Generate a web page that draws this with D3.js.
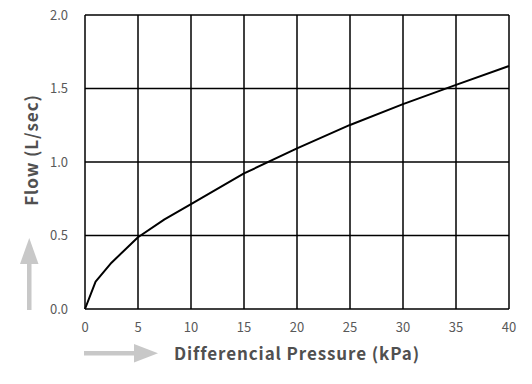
<!DOCTYPE html>
<html lang="en">
<head>
<meta charset="UTF-8">
<title>Flow vs Differencial Pressure</title>
<script src="https://d3js.org/d3.v7.min.js"></script>
<style>
  body { margin: 0; background: #fff; }
  text { font-family: "Noto Sans CJK JP", "Noto Sans", sans-serif; }
</style>
</head>
<body>
<div id="chart"></div>
<script>
// values
var pressure = [0, 1, 2.5, 5, 7.5, 10, 15, 20, 25, 30, 35, 40];
var flow     = [0, 0.186, 0.315, 0.488, 0.61, 0.714, 0.922, 1.093, 1.252, 1.394, 1.525, 1.653];
var xTicks = [0, 5, 10, 15, 20, 25, 30, 35, 40];
var yTicks = [0, 0.5, 1.0, 1.5, 2.0];

var width = 532, height = 384;
var plotLeft = 85, plotRight = 509, plotTop = 15, plotBottom = 309;

var svg = d3.select("#chart")
    .append("svg")
    .attr("width", width)
    .attr("height", height);

var x = d3.scaleLinear().domain([0, 40]).range([plotLeft, plotRight]);
var y = d3.scaleLinear().domain([0, 2]).range([plotBottom, plotTop]);

// grid
svg.append("g").selectAll("line")
    .data(xTicks)
    .enter().append("line")
    .attr("x1", d => x(d)).attr("x2", d => x(d))
    .attr("y1", plotTop).attr("y2", plotBottom)
    .attr("stroke", "#000").attr("stroke-width", 1.5);

svg.append("g").selectAll("line")
    .data(yTicks)
    .enter().append("line")
    .attr("x1", plotLeft).attr("x2", plotRight)
    .attr("y1", d => y(d)).attr("y2", d => y(d))
    .attr("stroke", "#000").attr("stroke-width", 1.5);

// tick labels
svg.append("g").selectAll("text")
    .data(xTicks)
    .enter().append("text")
    .attr("x", d => x(d))
    .attr("y", plotBottom + 23)
    .attr("text-anchor", "middle")
    .attr("fill", "#595959")
    .style("font-size", "13px")
    .text(d => d);

svg.append("g").selectAll("text")
    .data(yTicks)
    .enter().append("text")
    .attr("x", 68)
    .attr("y", d => y(d))
    .attr("dy", "0.35em")
    .attr("text-anchor", "end")
    .attr("fill", "#595959")
    .style("font-size", "13px")
    .text(d => d3.format(".1f")(d));

// curve
var line = d3.line()
    .x((d, i) => x(pressure[i]))
    .y(d => y(d));

svg.append("path")
    .datum(flow)
    .attr("fill", "none")
    .attr("stroke", "#000")
    .attr("stroke-width", 2)
    .attr("stroke-linejoin", "round")
    .attr("d", line);

// axis titles
svg.append("text")
    .attr("x", 297)
    .attr("y", 360)
    .attr("text-anchor", "middle")
    .attr("fill", "#505050")
    .style("font-size", "17px")
    .style("font-weight", "600")
    .style("letter-spacing", "0.9px")
    .text("Differencial Pressure (kPa)");

svg.append("text")
    .attr("transform", "translate(38,150) rotate(-90)")
    .attr("text-anchor", "middle")
    .attr("fill", "#505050")
    .style("font-size", "17px")
    .style("font-weight", "600")
    .style("letter-spacing", "0.9px")
    .text("Flow (L/sec)");

// grey arrows
var arrowColor = "#c8c8c8";
svg.append("rect")
    .attr("x", 27).attr("y", 262).attr("width", 4.5).attr("height", 48)
    .attr("fill", arrowColor);
svg.append("path")
    .attr("d", "M20,264 L29.25,238 L38.5,264 Z")
    .attr("fill", arrowColor);

svg.append("rect")
    .attr("x", 84).attr("y", 351).attr("width", 52).attr("height", 4.5)
    .attr("fill", arrowColor);
svg.append("path")
    .attr("d", "M134,344 L158,353.25 L134,362.5 Z")
    .attr("fill", arrowColor);
</script>
</body>
</html>
